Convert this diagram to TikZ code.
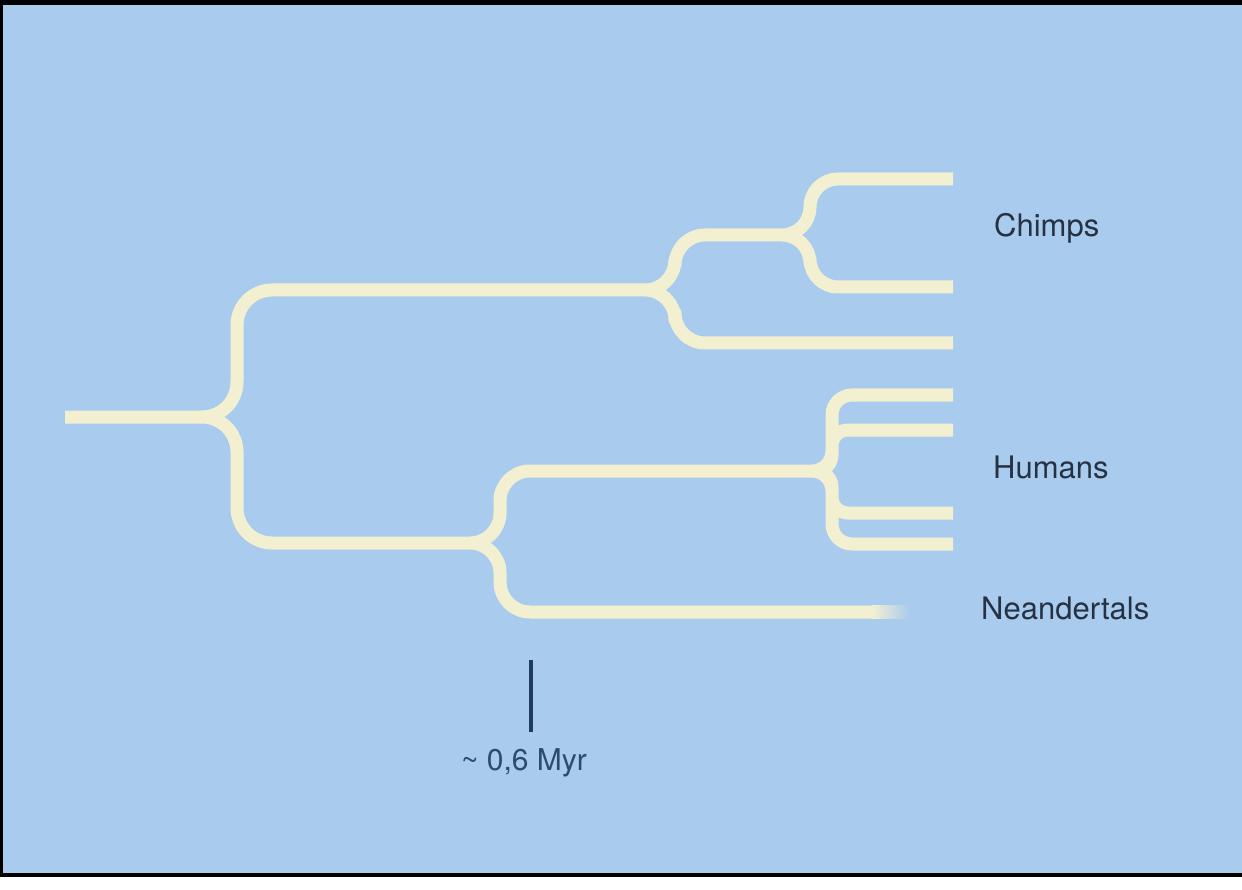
\documentclass[tikz,border=0pt]{standalone}
\usepackage{fontspec}
\setmainfont{TeX Gyre Heros}
\definecolor{bgblue}{HTML}{A9CBED}
\definecolor{cream}{HTML}{F3F0D2}
\definecolor{labeltext}{HTML}{263244}
\definecolor{myrtext}{HTML}{2C4B6E}
\definecolor{scaleline}{HTML}{1E3C5F}
\begin{document}
\begin{tikzpicture}[x=1pt,y=-1pt,
  branch/.style={draw=cream, line width=13pt, line cap=butt, line join=round},
  taxon/.style={anchor=base west, text=labeltext, font=\fontsize{31}{36}\selectfont, inner sep=0pt},
  scalelabel/.style={anchor=base, text=myrtext, font=\fontsize{30}{35}\selectfont, inner sep=0pt}]
\useasboundingbox (0,0) rectangle (1242,890);
% frame
\fill[white] (0,0) rectangle (1242,890);
\fill[black] (0,0) rectangle (1242,877);
\fill[bgblue] (3,5) rectangle (1242,873);
% junctions (vertical position), stem starts (s) and parent ends (e)
\coordinate (root) at (65,417);
\coordinate (j0) at (237,417);
\coordinate (j1) at (675,290);
\coordinate (j1s) at (615,290);
\coordinate (j1e) at (640,290);
\coordinate (j2) at (810,235);
\coordinate (j2s) at (755,235);
\coordinate (j2e) at (777,235);
\coordinate (j3) at (500,543);
\coordinate (j3s) at (440,543);
\coordinate (j3e) at (465,543);
\coordinate (j4) at (832,471);
\coordinate (j4s) at (780,471);
\coordinate (j4e) at (807,471);
% leaves
\coordinate (c1) at (953,179);
\coordinate (c2) at (953,287);
\coordinate (c3) at (953,343);
\coordinate (h1) at (953,395);
\coordinate (h2) at (953,430);
\coordinate (h3) at (953,513);
\coordinate (h4) at (953,544);
\coordinate (n) at (872,612);
% the whole tree as one stroke (no seams where branches overlap)
\draw[branch]
  % root split
  [rounded corners=35pt]
  (root) -- (j0) -- (j0 |- j1) -- (j1e)
  (root) -- (j0) -- (j0 |- j3) -- (j3e)
  % chimp clade
  [rounded corners=30pt]
  (j1s) -- (j1) -- (j1 |- j2) -- (j2e)
  (j1s) -- (j1) -- (j1 |- c3) -- (c3)
  [rounded corners=28pt]
  (j2s) -- (j2) -- (j2 |- c1) -- (c1)
  (j2s) -- (j2) -- (j2 |- c2) -- (c2)
  % human / neandertal clade
  [rounded corners=30pt]
  (j3s) -- (j3) -- (j3 |- j4) -- (j4e)
  (j3s) -- (j3) -- (j3 |- n) -- (n)
  % human leaves
  [rounded corners=20pt]
  (j4s) -- (j4) -- (j4 |- h1) -- (h1)
  (j4s) -- (j4) -- (j4 |- h4) -- (h4)
  [rounded corners=16pt]
  (j4s) -- (j4) -- (j4 |- h2) -- (h2)
  (j4s) -- (j4) -- (j4 |- h3) -- (h3);
% fading end of the Neandertal branch
\shade[left color=cream, right color=bgblue] (871.5,605.5) rectangle (910,618.5);
% labels
\node[taxon] (chimps) at (994,237) {Chimps};
\node[taxon] (humans) at (993,478) {Humans};
\node[taxon] (neand) at (981,619) {Neandertals};
% scale
\coordinate (stop) at (531,660);
\coordinate (sbot) at (531,732);
\draw[scaleline, line width=3.5pt] (stop) -- (sbot);
\node[scalelabel] (myr) at (524,770) {\textasciitilde{} 0,6 Myr};
\end{tikzpicture}
\end{document}
